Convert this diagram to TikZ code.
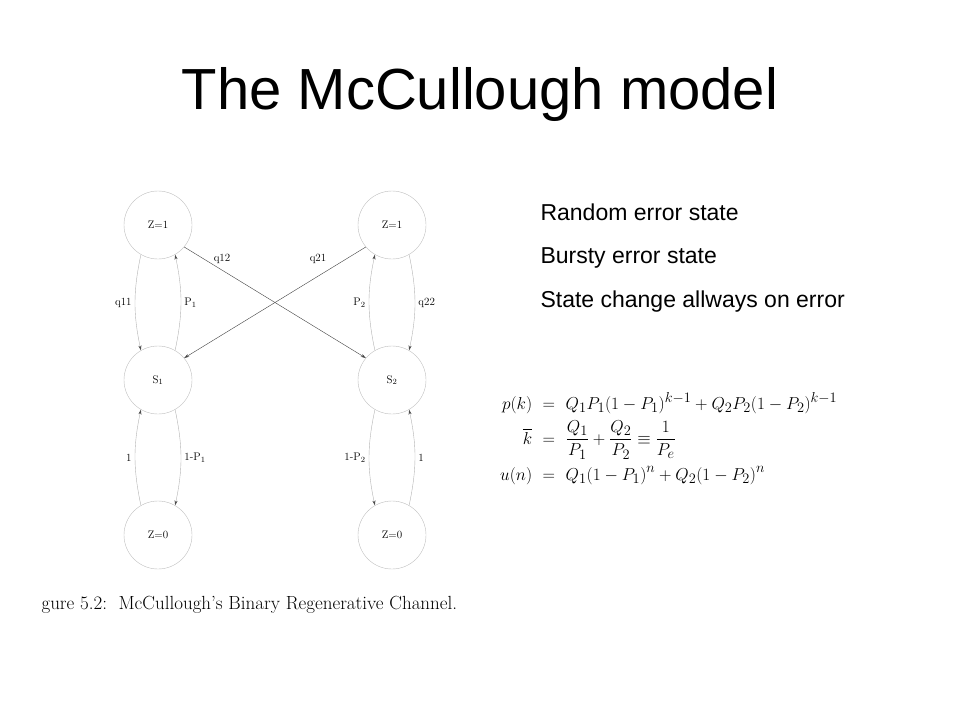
\documentclass[tikz,border=0pt]{standalone}
\usepackage{fontspec}
\setsansfont{Liberation Sans}
\usepackage{amsmath}
\usetikzlibrary{arrows.meta}
\begin{document}
\begin{tikzpicture}[x=1pt,y=-1pt,
  st/.style={circle,draw=black!25,minimum size=68pt,inner sep=0pt,font=\fontsize{11}{13}\selectfont},
  arc/.style={draw=black!30,-{Stealth[length=5pt,width=3pt,color=black!70]}},
  cross/.style={draw=black!75,-{Stealth[length=5pt,width=3pt]}},
  lab/.style={font=\fontsize{11}{13}\selectfont},
  side/.style={font=\sffamily\fontsize{23}{27}\selectfont,anchor=west}]
\useasboundingbox (0,0) rectangle (960,720);
\node[font=\sffamily\fontsize{58}{66}\selectfont] (title) at (480,95) {The McCullough model};
\node[st] (z11) at (158,225) {Z=1};
\node[st] (s1) at (158,380) {S$_1$};
\node[st] (z01) at (158,535) {Z=0};
\node[st] (z12) at (392,225) {Z=1};
\node[st] (s2) at (392,380) {S$_2$};
\node[st] (z02) at (392,535) {Z=0};
\draw[arc] (z11.240) to[bend right=12] node[lab,left] {q11} (s1.120);
\draw[arc] (s1.60) to[bend right=12] node[lab,right] {P$_1$} (z11.300);
\draw[arc] (z01.120) to[bend left=12] node[lab,left] {1} (s1.240);
\draw[arc] (s1.300) to[bend left=12] node[lab,right] {1-P$_1$} (z01.60);
\draw[arc] (s2.120) to[bend left=12] node[lab,left] {P$_2$} (z12.240);
\draw[arc] (z12.300) to[bend left=12] node[lab,right] {q22} (s2.60);
\draw[arc] (s2.240) to[bend right=12] node[lab,left] {1-P$_2$} (z02.120);
\draw[arc] (z02.60) to[bend right=12] node[lab,right] {1} (s2.300);
\draw[cross] (z11.-40) -- (s2.140);
\draw[cross] (z12.220) -- (s1.40);
\node[lab] (q12) at (222,259) {q12};
\node[lab] (q21) at (318,259) {q21};
\node[side] (t1) at (537,212) {Random error state};
\node[side] (t2) at (537,258) {Bursty error state};
\node[side] (t3) at (537,302) {State change allways on error};
\node[anchor=north west,inner sep=0pt,font=\fontsize{19}{24}\selectfont] (eq) at (500,392) {$\begin{aligned}
p(k)\ &=\ Q_1P_1(1-P_1)^{k-1}+Q_2P_2(1-P_2)^{k-1}\\
\overline{k}\ &=\ \frac{Q_1}{P_1}+\frac{Q_2}{P_2}\equiv\frac{1}{P_e}\\
u(n)\ &=\ Q_1(1-P_1)^n+Q_2(1-P_2)^n
\end{aligned}$};
\node[anchor=west,font=\fontsize{19}{22}\selectfont] (cap) at (38,605) {gure 5.2:\ \ McCullough's Binary Regenerative Channel.};
\end{tikzpicture}
\end{document}
